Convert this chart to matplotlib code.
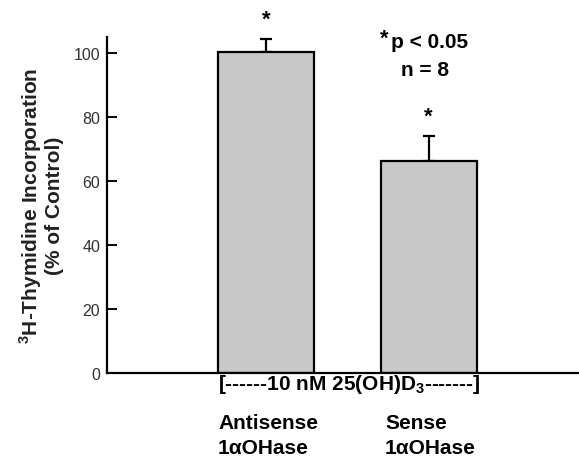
import matplotlib.pyplot as plt

plt.rcParams['font.family'] = ['Liberation Sans', 'DejaVu Sans']
plt.rcParams['mathtext.fontset'] = 'custom'
plt.rcParams['mathtext.rm'] = 'Liberation Sans'
plt.rcParams['mathtext.bf'] = 'Liberation Sans:bold'

# Data
groups = ['Antisense\n1\u03b1OHase', 'Sense\n1\u03b1OHase']
values = [100.3, 66.2]
errors = [4.0, 7.8]
yticks = [0, 20, 40, 60, 80, 100]

fig = plt.figure(figsize=(5.79, 4.6), dpi=100)
ax = fig.add_axes([107 / 579, 86 / 460, 472 / 579, 336 / 460])

pos = [0, 1]
ax.bar(pos, values, width=0.593, color='#c8c8c8', edgecolor='black', linewidth=1.6, zorder=2)
ax.errorbar(pos, values, yerr=[[0, 0], errors], fmt='none', ecolor='black',
            elinewidth=1.6, capsize=4, capthick=1.6, zorder=1)

# significance stars
for x, v, e in zip(pos, values, errors):
    ax.text(x, v + e + 3.0, '*', ha='center', va='bottom', fontsize=16,
            fontweight='bold', clip_on=False)

ax.set_xlim(-0.981, 1.926)
ax.set_ylim(0, 105)
ax.set_yticks(yticks)
ax.set_xticks([])
ax.tick_params(axis='y', direction='in', length=7, width=1.4, labelsize=11.5,
               labelcolor='#333333', pad=5)
for s in ['top', 'right']:
    ax.spines[s].set_visible(False)
for s in ['left', 'bottom']:
    ax.spines[s].set_linewidth(1.6)

ax.set_ylabel('$^\\mathbf{3}$H-Thymidine Incorporation\n(% of Control)', fontsize=15,
              fontweight='bold', color='#222222', labelpad=7, linespacing=1.05)

# legend-like annotation
fig.text(380 / 579, 1 - 45 / 460, '*', fontsize=16, fontweight='bold', ha='left', va='baseline')
fig.text(391 / 579, 1 - 43 / 460, 'p < 0.05', fontsize=15, fontweight='bold', ha='left', va='center')
fig.text(425 / 579, 1 - 71 / 460, 'n = 8', fontsize=15, fontweight='bold', ha='center', va='center')

# group labels below axis
fig.text(218 / 579, 1 - 385 / 460, '[------10 nM 25(OH)D$_\\mathbf{3}$-------]', fontsize=15,
         fontweight='bold', ha='left', va='center')
for xpx, lab in zip([218, 385], groups):
    fig.text(xpx / 579, 1 - 436 / 460, lab, fontsize=15, fontweight='bold',
             ha='left', va='center', linespacing=1.35)

fig.savefig('out.png', dpi=100)
